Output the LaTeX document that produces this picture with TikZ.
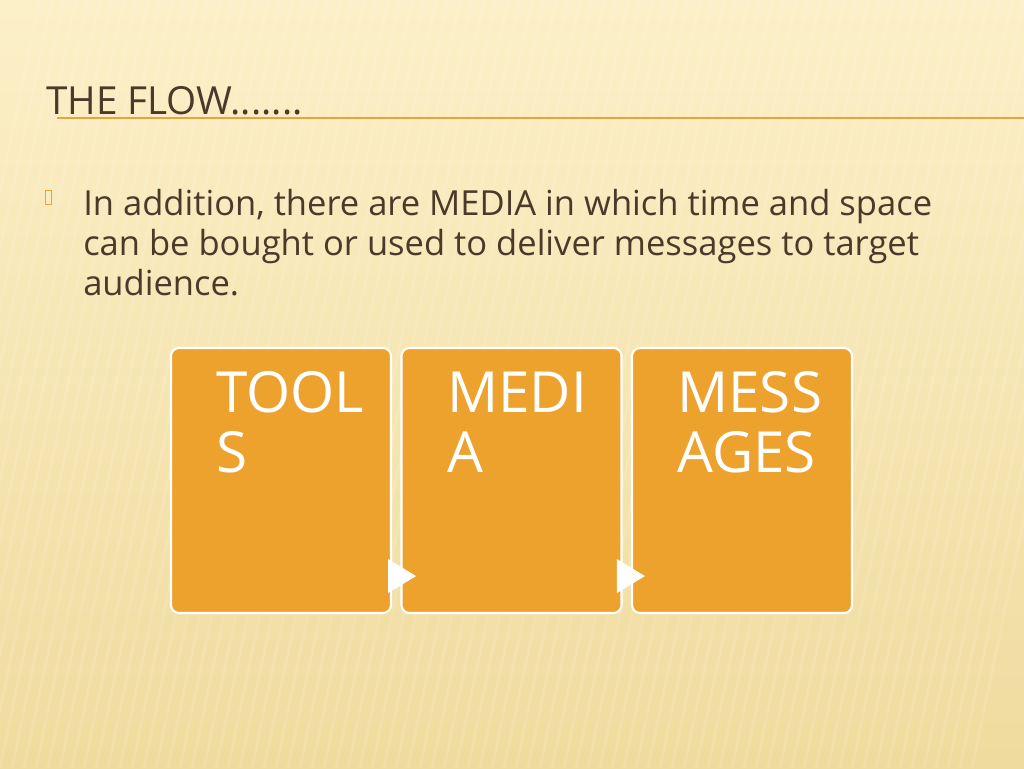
\documentclass[tikz,border=0pt]{standalone}
\usepackage{fontspec}
\setmainfont{Open Sans}
\usetikzlibrary{calc}
\definecolor{bgtop}{HTML}{FCF0C8}
\definecolor{bgbot}{HTML}{F0DB9E}
\definecolor{titlec}{HTML}{4A3A2A}
\definecolor{linec}{HTML}{E8A33A}
\definecolor{boxc}{HTML}{EDA22E}
\tikzset{
  flowbox/.style={draw=white, line width=1.6pt, fill=boxc, rounded corners=6pt,
    minimum width=165pt, minimum height=198.75pt, inner sep=0pt},
  boxtext/.style={anchor=base west, text=white, font=\fontsize{42.5}{45}\selectfont, inner sep=0pt},
  flowtip/.style={fill=white}
}
\begin{document}
\begin{tikzpicture}[x=0.75pt,y=-0.75pt]
\shade[top color=bgtop, bottom color=bgbot] (0,0) rectangle (1024,768);
\useasboundingbox (0,0) rectangle (1024,768);
% faint stripes
\foreach \i in {0,12,...,1100}{
  \draw[white, opacity=0.12, line width=2pt] (\i-120,768) -- (\i+40,0);
}
\node[anchor=base west, inner sep=0pt, text=titlec, font=\fontsize{29}{30}\selectfont] (title) at (46,114) {THE FLOW.......};
\coordinate (ul1) at (57,118);
\coordinate (ul2) at (1024,118);
\draw[linec, line width=1.5pt] (ul1) -- (ul2);
\node[draw=linec, line width=0.6pt, minimum width=5pt, minimum height=10.5pt, inner sep=0pt] (bullet) at (48.5,197) {};
\node[anchor=base west, inner sep=0pt, text=titlec, align=left, font=\fontsize{25.9}{30}\selectfont] (body) at (83,295)
  {In addition, there are MEDIA in which time and space\\can be bought or used to deliver messages to target\\audience.};
\node[flowbox] (tools) at (281,480.5) {};
\node[flowbox] (media) at (511.5,480.5) {};
\node[flowbox] (msgs) at (742,480.5) {};
\node[boxtext] (t1) at (216,412) {TOOL};
\node[boxtext] (t2) at (216,472) {S};
\node[boxtext] (m1) at (447,412) {MEDI};
\node[boxtext] (m2) at (447,472) {A};
\node[boxtext] (s1) at (677,412) {MESS};
\node[boxtext] (s2) at (677,472) {AGES};
% arrow heads between boxes
\coordinate (a1) at ($(tools.south east)+(-4,-38)$);
\coordinate (a2) at ($(msgs.south west)+(-14,-38)$);
\fill[flowtip] (a1) -- ++(0,-17) -- ++(28,17) -- ++(-28,17) -- cycle;
\fill[flowtip] (a2) -- ++(0,-17) -- ++(28,17) -- ++(-28,17) -- cycle;
\end{tikzpicture}
\end{document}
